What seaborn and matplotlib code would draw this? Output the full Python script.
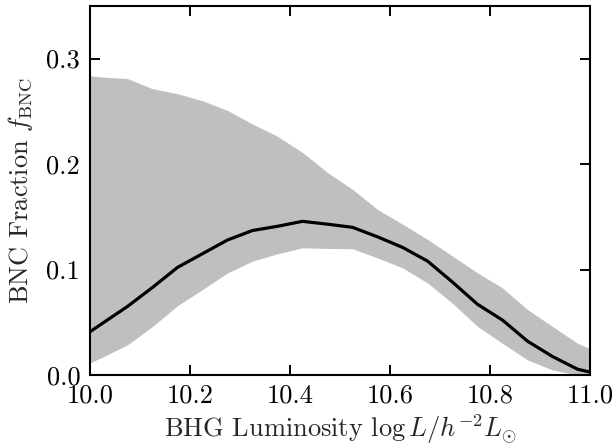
import numpy as np
import pandas as pd
import matplotlib
matplotlib.use("Agg")
import matplotlib.pyplot as plt
import seaborn as sns

# Data
log_lum = [9.975, 10.025, 10.075, 10.125, 10.175, 10.225, 10.275, 10.325, 10.375, 10.425,
           10.475, 10.525, 10.575, 10.625, 10.675, 10.725, 10.775, 10.825, 10.875, 10.925,
           10.975, 11.025]
f_median = [0.033, 0.049, 0.065, 0.083, 0.102, 0.115, 0.128, 0.137, 0.141, 0.1457,
            0.143, 0.140, 0.131, 0.121, 0.108, 0.088, 0.067, 0.052, 0.032, 0.0175,
            0.0055, 0.0]
f_upper = [0.285, 0.2825, 0.281, 0.2714, 0.2667, 0.260, 0.2508, 0.238, 0.2263, 0.211,
           0.192, 0.176, 0.157, 0.143, 0.1286, 0.1127, 0.0968, 0.0825, 0.062, 0.046,
           0.030, 0.020]
f_lower = [0.006, 0.017, 0.0286, 0.046, 0.0657, 0.081, 0.0968, 0.108, 0.115, 0.1206,
           0.120, 0.1197, 0.111, 0.1016, 0.0873, 0.068, 0.046, 0.030, 0.0143, 0.0048,
           0.0, 0.0]
x_ticks = [10.0, 10.2, 10.4, 10.6, 10.8, 11.0]
y_ticks = [0.0, 0.1, 0.2, 0.3]

df = pd.DataFrame({"x": log_lum, "med": f_median, "lo": f_lower, "hi": f_upper})

sns.set_theme(style="ticks")
plt.rcParams.update({
    "font.family": "serif",
    "font.serif": ["cmr10"],
    "mathtext.fontset": "cm",
    "axes.unicode_minus": False,
    "axes.formatter.use_mathtext": True,
    "font.size": 19,
})

fig = plt.figure(figsize=(6.16, 4.47), dpi=100)
ax = fig.add_axes([0.146, 0.161, 0.812, 0.826])

ax.fill_between(df["x"], df["lo"], df["hi"], color="0.75", linewidth=0)
sns.lineplot(data=df, x="x", y="med", ax=ax, color="black", linewidth=2.3)

ax.set_xlim(10.0, 11.0)
ax.set_ylim(0.0, 0.35)
ax.set_xticks(x_ticks)
ax.set_yticks(y_ticks)
ax.set_xticklabels([f"{v:.1f}" for v in x_ticks])
ax.set_yticklabels([f"{v:.1f}" for v in y_ticks])

for s in ax.spines.values():
    s.set_linewidth(1.5)
    s.set_color("black")
ax.tick_params(direction="in", top=True, right=True, length=7, width=1.4,
               labelsize=19, colors="black")
ax.tick_params(axis="x", pad=6)
ax.tick_params(axis="y", pad=7)

ax.set_xlabel(r"BHG Luminosity $\log L/h^{-2}L_{\odot}$", fontsize=19, labelpad=4)
ax.set_ylabel(r"BNC Fraction $f_{\rm BNC}$", fontsize=19, labelpad=8)

fig.savefig("out.png", dpi=100)
